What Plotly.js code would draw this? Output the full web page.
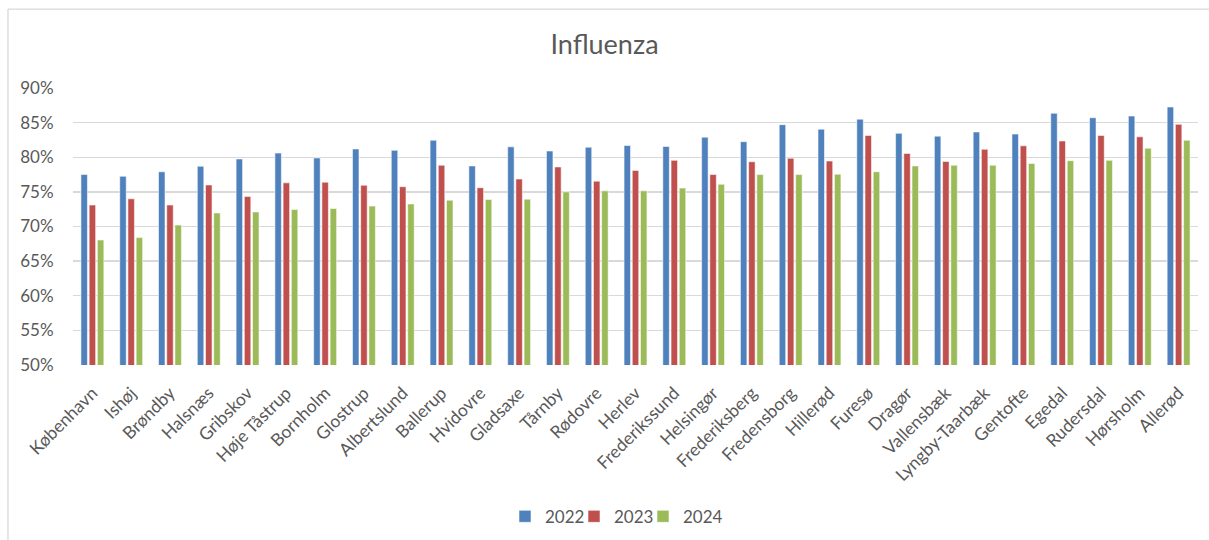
<!DOCTYPE html>
<html>
<head>
<meta charset="utf-8">
<script src="https://cdn.plot.ly/plotly-3.0.1.min.js"></script>
<style>html,body{margin:0;padding:0;background:#fff;}#chart{width:1209px;height:540px;}</style>
</head>
<body>
<div id="chart"></div>
<script>
const categories = ["København","Ishøj","Brøndby","Halsnæs","Gribskov","Høje Tåstrup","Bornholm","Glostrup","Albertslund","Ballerup","Hvidovre","Gladsaxe","Tårnby","Rødovre","Herlev","Frederikssund","Helsingør","Frederiksberg","Fredensborg","Hillerød","Furesø","Dragør","Vallensbæk","Lyngby-Taarbæk","Gentofte","Egedal","Rudersdal","Hørsholm","Allerød"];
const series2022 = [77.5,77.25,77.9,78.7,79.75,80.6,79.9,81.2,81.0,82.45,78.75,81.5,80.9,81.45,81.7,81.55,82.9,82.25,84.7,84.05,85.5,83.45,83.05,83.65,83.35,86.35,85.7,85.95,87.25];
const series2023 = [73.1,74.0,73.1,76.0,74.35,76.3,76.4,75.95,75.75,78.85,75.6,76.85,78.6,76.55,78.1,79.55,77.5,79.35,79.85,79.45,83.15,80.55,79.4,81.15,81.65,82.35,83.15,82.95,84.75];
const series2024 = [68.05,68.4,70.2,71.95,72.1,72.45,72.6,72.95,73.25,73.8,73.9,73.95,75.0,75.15,75.15,75.55,76.1,77.5,77.5,77.55,77.9,78.75,78.85,78.85,79.1,79.5,79.55,81.3,82.45];
const seriesNames = ["2022","2023","2024"];
const colors = ["#4F81BD","#C0504D","#9BBB59"];
const yTicks = [50,55,60,65,70,75,80,85,90];
const yTickLabels = yTicks.map(v => v + "%");

const FONT = "Lato, 'Open Sans', sans-serif";
const legendIds = ["legend", "legend2", "legend3"];
const data = [series2022, series2023, series2024].map((vals, i) => ({
  type: "bar",
  name: seriesNames[i],
  x: categories,
  y: vals,
  legend: legendIds[i],
  marker: {color: colors[i], line: {color: "rgba(255,255,255,0.55)", width: 1}},
  hoverinfo: "x+y+name"
}));

const legendBase = {orientation: "h", xref: "container", xanchor: "left", yref: "container", y: 0.043, yanchor: "middle", font: {family: FONT, size: 17, color: "#595959"}, itemwidth: 30, bgcolor: "rgba(0,0,0,0)"};
const legendX = [505, 574, 643];

const layout = {
  width: 1209, height: 540,
  margin: {l: 73, r: 11, t: 88, b: 175, autoexpand: false},
  paper_bgcolor: "#fff", plot_bgcolor: "#fff",
  font: {family: FONT, color: "#595959", size: 17},
  title: {text: "Influenza", x: 0.5, xanchor: "center", y: 0.918, yanchor: "middle", font: {family: FONT, size: 27, color: "#595959"}},
  barmode: "group",
  bargap: 0.365,
  bargroupgap: 0.21,
  showlegend: true,
  legend: Object.assign({}, legendBase, {x: legendX[0] / 1209}),
  legend2: Object.assign({}, legendBase, {x: legendX[1] / 1209}),
  legend3: Object.assign({}, legendBase, {x: legendX[2] / 1209}),
  xaxis: {
    type: "category",
    tickangle: -45,
    showgrid: false,
    showline: false,
    zeroline: false,
    ticks: "outside", ticklen: 10, tickcolor: "rgba(0,0,0,0)",
    tickfont: {family: FONT, size: 17.5, color: "#595959"},
    fixedrange: true
  },
  yaxis: {
    range: [50, 90],
    tickvals: yTicks,
    ticktext: yTickLabels,
    showgrid: true,
    gridcolor: "#D9D9D9",
    gridwidth: 1.3,
    zeroline: false,
    showline: false,
    ticks: "outside", ticklen: 15, tickcolor: "rgba(0,0,0,0)",
    tickfont: {family: FONT, size: 17, color: "#595959"},
    fixedrange: true
  },
  shapes: [
    {type: "line", xref: "paper", yref: "paper", x0: -0.0578, x1: 1.02, y0: 1.285, y1: 1.285, line: {color: "#D9D9D9", width: 1.3}},
    {type: "line", xref: "paper", yref: "paper", x0: -0.0578, x1: -0.0578, y0: 1.285, y1: -0.7, line: {color: "#D9D9D9", width: 1.3}}
  ]
};

Plotly.newPlot("chart", data, layout, {displayModeBar: false, staticPlot: true});
</script>
</body>
</html>
